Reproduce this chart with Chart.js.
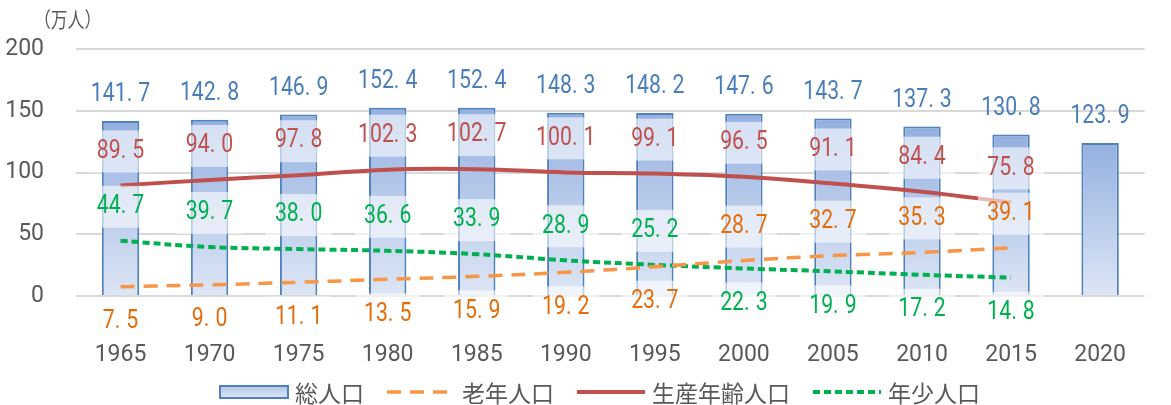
<!DOCTYPE html>
<html lang="ja">
<head>
<meta charset="utf-8">
<script src="https://cdn.jsdelivr.net/npm/chart.js@4"></script>
<style>
  html, body { margin: 0; padding: 0; background: #fff; }
  #wrap { width: 1171px; height: 405px; position: relative; }
</style>
</head>
<body>
<div id="wrap"><canvas id="popChart"></canvas></div>
<script>
// Chart data
const years = ["1965", "1970", "1975", "1980", "1985", "1990", "1995", "2000", "2005", "2010", "2015", "2020"];
const totalPop = [141.7, 142.8, 146.9, 152.4, 152.4, 148.3, 148.2, 147.6, 143.7, 137.3, 130.8, 123.9];
const elderlyPop = [7.5, 9.0, 11.1, 13.5, 15.9, 19.2, 23.7, 28.7, 32.7, 35.3, 39.1, null];
const workingPop = [89.5, 94.0, 97.8, 102.3, 102.7, 100.1, 99.1, 96.5, 91.1, 84.4, 75.8, null];
const youngPop = [44.7, 39.7, 38.0, 36.6, 33.9, 28.9, 25.2, 22.3, 19.9, 17.2, 14.8, null];
const yTicks = [0, 50, 100, 150, 200];
const seriesNames = ["総人口", "老年人口", "生産年齢人口", "年少人口"];
const unitLabel = "（万人）";

const NUM_FONT = 'Roboto, "Liberation Sans", sans-serif';
const JP_FONT = '"Noto Sans CJK JP", sans-serif';
const AXIS_GREY = "#595959";

const BLUE = "#4f81bd";
const ORANGE = "#f79646";
const RED = "#c0504d";
const GREEN = "#00b050";

// Bar fill: darker at the top of each bar, lighter at the base
function barGradient(context) {
  const chart = context.chart;
  const { chartArea, scales } = chart;
  if (!chartArea || context.type !== "data") return "#b4c7e7";
  const top = scales.y.getPixelForValue(context.raw);
  const bottom = scales.y.getPixelForValue(0);
  const g = chart.ctx.createLinearGradient(0, top, 0, bottom);
  g.addColorStop(0, "#94b0e0");
  g.addColorStop(1, "#dde6f5");
  return g;
}

// Narrow number with a little extra room after the decimal point
function drawNumber(ctx, value, cx, cy, color) {
  const sx = 0.85;
  const text = value.toFixed(1);
  const dot = text.indexOf(".");
  const head = text.slice(0, dot + 1);
  const tail = text.slice(dot + 1);
  const gap = 6;
  const wHead = ctx.measureText(head).width * sx;
  const wTail = ctx.measureText(tail).width * sx;
  const left = cx - (wHead + gap + wTail) / 2;
  ctx.fillStyle = color;
  ctx.save();
  ctx.translate(left, cy);
  ctx.scale(sx, 1);
  ctx.fillText(head, 0, 0);
  ctx.fillText(tail, (wHead + gap) / sx, 0);
  ctx.restore();
}

const valueLabels = {
  id: "valueLabels",
  afterDatasetsDraw(chart) {
    const ctx = chart.ctx;
    ctx.save();
    ctx.font = "25px " + NUM_FONT;
    ctx.textBaseline = "middle";
    ctx.textAlign = "left";

    // totals above the bars
    chart.getDatasetMeta(0).data.forEach((bar, i) => {
      drawNumber(ctx, totalPop[i], bar.x, bar.y - 26, "#4a7ebb");
    });

    // line labels with a light box behind them
    const lineSets = [
      { idx: 1, values: elderlyPop, other: youngPop, color: "#e46c0a" },
      { idx: 2, values: workingPop, other: null, color: RED },
      { idx: 3, values: youngPop, other: elderlyPop, color: GREEN },
    ];
    lineSets.forEach((s) => {
      const meta = chart.getDatasetMeta(s.idx);
      meta.data.forEach((pt, i) => {
        const v = s.values[i];
        if (v === null) return;
        const above = !s.other || v >= s.other[i];
        const ly = pt.y + (above ? -34 : 35);
        ctx.fillStyle = "rgba(255,255,255,0.6)";
        ctx.fillRect(pt.x - 33, ly - 21, 66, 42);
        drawNumber(ctx, v, pt.x, ly, s.color);
      });
    });
    ctx.restore();
  },
};

// Unit label and legend drawn in the Excel style
const legendAndUnit = {
  id: "legendAndUnit",
  afterDraw(chart) {
    const ctx = chart.ctx;
    ctx.save();
    ctx.fillStyle = AXIS_GREY;
    ctx.textBaseline = "middle";
    ctx.textAlign = "left";

    // unit at top left
    ctx.font = "21px " + JP_FONT;
    ctx.save();
    ctx.translate(34, 19);
    ctx.scale(0.8, 1);
    ctx.fillText(unitLabel, 0, 0);
    ctx.restore();

    // legend row
    const cy = 392;
    const symW = 68;
    let x = 220;
    ctx.font = "23px " + JP_FONT;
    seriesNames.forEach((name, i) => {
      if (i === 0) {
        const g = ctx.createLinearGradient(0, cy - 6, 0, cy + 6);
        g.addColorStop(0, "#b4c7e7");
        g.addColorStop(1, "#dde6f5");
        ctx.fillStyle = g;
        ctx.fillRect(x, cy - 6, symW, 12);
        ctx.strokeStyle = BLUE;
        ctx.lineWidth = 2;
        ctx.strokeRect(x, cy - 6, symW, 12);
      } else {
        const ds = chart.data.datasets[i];
        ctx.strokeStyle = ds.borderColor;
        ctx.lineWidth = ds.borderWidth;
        ctx.setLineDash(ds.borderDash || []);
        ctx.beginPath();
        ctx.moveTo(x, cy);
        ctx.lineTo(x + symW, cy);
        ctx.stroke();
        ctx.setLineDash([]);
      }
      x += symW + 7;
      ctx.fillStyle = AXIS_GREY;
      ctx.fillText(name, x, cy + 1);
      x += ctx.measureText(name).width + 23;
    });
    ctx.restore();
  },
};

const popChart = new Chart(document.getElementById("popChart"), {
  type: "bar",
  data: {
    labels: years,
    datasets: [
      {
        label: seriesNames[0],
        data: totalPop,
        backgroundColor: barGradient,
        borderColor: BLUE,
        borderWidth: 2,
        categoryPercentage: 1,
        barPercentage: 0.42,
        order: 1,
      },
      {
        type: "line",
        label: seriesNames[1],
        data: elderlyPop,
        borderColor: ORANGE,
        borderWidth: 3.5,
        borderDash: [14, 9],
        pointRadius: 0,
        tension: 0.4,
        order: 0,
      },
      {
        type: "line",
        label: seriesNames[2],
        data: workingPop,
        borderColor: RED,
        borderWidth: 4,
        pointRadius: 0,
        tension: 0.4,
        order: 0,
      },
      {
        type: "line",
        label: seriesNames[3],
        data: youngPop,
        borderColor: GREEN,
        borderWidth: 4,
        borderDash: [7, 4],
        pointRadius: 0,
        tension: 0.4,
        order: 0,
      },
    ],
  },
  options: {
    responsive: true,
    maintainAspectRatio: false,
    animation: false,
    layout: { padding: { top: 49, right: 1, left: 0, bottom: 0 } },
    plugins: {
      legend: { display: false },
      tooltip: { enabled: false },
    },
    scales: {
      x: {
        grid: { display: false, drawTicks: false },
        border: { display: false },
        ticks: {
          color: AXIS_GREY,
          font: { family: NUM_FONT, size: 23 },
          padding: 45,
          maxRotation: 0,
        },
        afterFit(scale) {
          scale.height = 109;
        },
      },
      y: {
        min: yTicks[0],
        max: yTicks[yTicks.length - 1],
        afterBuildTicks(scale) {
          scale.ticks = yTicks.map((v) => ({ value: v }));
        },
        grid: { color: "#d9d9d9", lineWidth: 2, drawTicks: false },
        border: { display: false },
        ticks: {
          color: AXIS_GREY,
          font: { family: NUM_FONT, size: 23 },
          padding: 32,
        },
        afterFit(scale) {
          scale.width = 76;
        },
      },
    },
  },
  plugins: [valueLabels, legendAndUnit],
});
</script>
</body>
</html>
